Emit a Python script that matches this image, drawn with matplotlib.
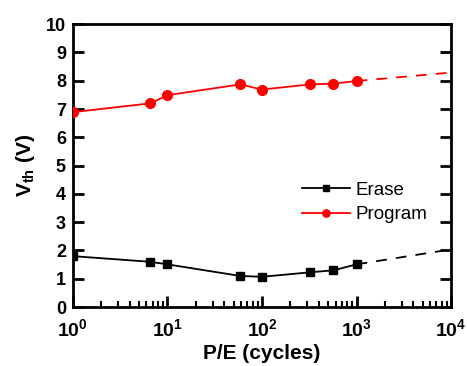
import matplotlib
matplotlib.use("Agg")

import matplotlib.pyplot as plt
from matplotlib.ticker import LogLocator, NullFormatter, FixedLocator

# measured points
cycles = [1, 6.6, 10, 59, 100, 325, 570, 1000]
erase_vth = [1.80, 1.60, 1.51, 1.10, 1.07, 1.23, 1.30, 1.51]
program_vth = [6.89, 7.20, 7.49, 7.87, 7.69, 7.87, 7.90, 7.99]

# dashed extrapolation
ext_cycles = [1000, 10000]
erase_ext = [1.51, 2.04]
program_ext = [7.99, 8.29]

plt.rcParams["font.family"] = ["Liberation Sans", "DejaVu Sans"]
plt.rcParams["mathtext.fontset"] = "custom"
plt.rcParams["mathtext.rm"] = "Liberation Sans:bold"
plt.rcParams["mathtext.it"] = "Liberation Sans:bold"
plt.rcParams["mathtext.bf"] = "Liberation Sans:bold"

fig = plt.figure(figsize=(4.67, 3.66), dpi=100)
ax = fig.add_axes([0.156, 0.161, 0.81, 0.773])

ax.plot(cycles, erase_vth, color="black", lw=1.3, marker="s", ms=6,
        label="Erase", zorder=3)
ax.plot(cycles, program_vth, color="#ff0000", lw=1.3, marker="o", ms=7,
        label="Program", zorder=3)
ax.plot(ext_cycles, erase_ext, color="black", lw=1.3, dashes=(6, 5))
ax.plot(ext_cycles, program_ext, color="#ff0000", lw=1.3, dashes=(6, 5))

ax.set_xscale("log")
ax.set_xlim(1, 10000)
ax.set_ylim(0, 10)

ax.yaxis.set_major_locator(FixedLocator(range(0, 11)))
ax.set_yticklabels([str(i) for i in range(0, 11)], fontsize=13, fontweight="bold")
ax.xaxis.set_major_locator(FixedLocator([1, 10, 100, 1000, 10000]))
ax.set_xticklabels([r"$10^{%d}$" % i for i in range(5)], fontsize=14)
ax.xaxis.set_minor_locator(LogLocator(base=10, subs=range(2, 10), numticks=20))
ax.xaxis.set_minor_formatter(NullFormatter())

ax.tick_params(axis="y", which="major", direction="in", length=8, width=2,
               left=True, right=True, pad=5)
ax.tick_params(axis="x", which="major", direction="in", length=8, width=2,
               top=False, pad=8)
ax.tick_params(axis="x", which="minor", direction="in", length=4, width=1.5,
               top=False)

for sp in ax.spines.values():
    sp.set_linewidth(2)

ax.set_ylabel(r"V$_{\mathregular{th}}$ (V)", fontsize=15, fontweight="bold",
              labelpad=6)
ax.set_xlabel("P/E (cycles)", fontsize=15, fontweight="bold", labelpad=3)

leg = ax.legend(loc="center left", bbox_to_anchor=(0.56, 0.37), frameon=False,
                fontsize=13.5, handlelength=2.6, handletextpad=0.3,
                labelspacing=0.4, markerscale=0.75)

fig.savefig("out.png", dpi=100)
